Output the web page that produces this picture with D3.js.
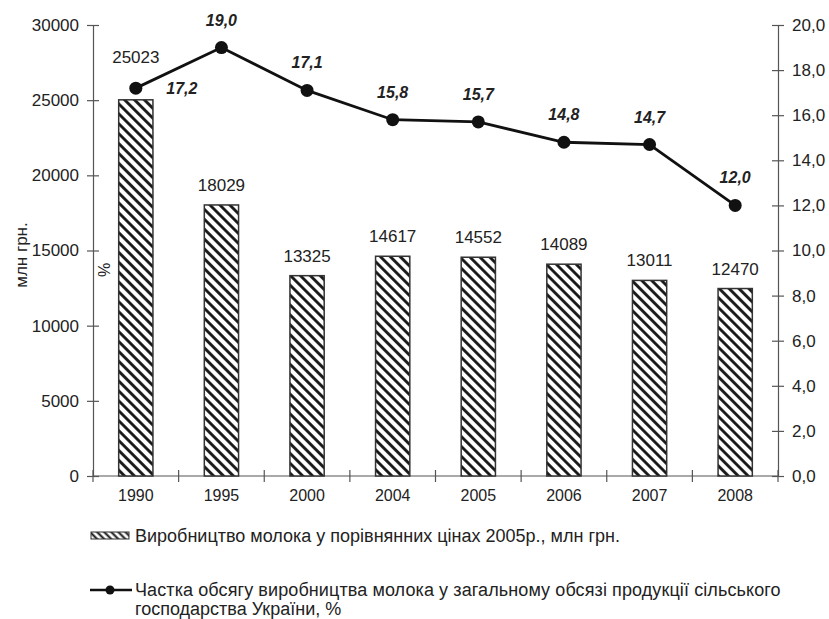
<!DOCTYPE html>
<html><head><meta charset="utf-8">
<script src="https://cdn.jsdelivr.net/npm/d3@7"></script>
<style>body{margin:0;background:#fff}svg{font-family:"Liberation Sans",Arial,sans-serif}</style>
</head><body>
<svg id="c" width="829" height="619"></svg>
<script>
const years = ["1990","1995","2000","2004","2005","2006","2007","2008"];
const production = [25023,18029,13325,14617,14552,14089,13011,12470];
const share = [17.2,19.0,17.1,15.8,15.7,14.8,14.7,12.0];
const leftTicks = [0,5000,10000,15000,20000,25000,30000];
const rightTicks = [0,2,4,6,8,10,12,14,16,18,20];
const legendBar = "Виробництво молока у порівнянних цінах 2005р., млн грн.";
const legendLine = ["Частка обсягу виробництва молока у загальному обсязі продукції сільського","господарства України, %"];

const svg = d3.select("#c");
const L = 93, R = 778, T = 25, B = 476;
const ink = "#222", axisCol = "#555";

const defs = svg.append("defs");
const pat = defs.append("pattern").attr("id","hatch").attr("patternUnits","userSpaceOnUse")
  .attr("width",7).attr("height",7).attr("patternTransform","rotate(-45)");
pat.append("rect").attr("width",7).attr("height",7).attr("fill","#fff");
pat.append("line").attr("x1",3.5).attr("x2",3.5).attr("y1",0).attr("y2",7).attr("stroke","#111").attr("stroke-width",2.8);
const pat2 = defs.append("pattern").attr("id","hatchS").attr("patternUnits","userSpaceOnUse")
  .attr("width",5).attr("height",5).attr("patternTransform","rotate(-45)");
pat2.append("rect").attr("width",5).attr("height",5).attr("fill","#fff");
pat2.append("line").attr("x1",2.5).attr("x2",2.5).attr("y1",0).attr("y2",5).attr("stroke","#111").attr("stroke-width",2);

const x = d3.scaleBand().domain(years).range([L,R]);
const yL = d3.scaleLinear().domain([0,30000]).range([B,T]);
const yR = d3.scaleLinear().domain([0,20]).range([B,T]);
const bw = x.bandwidth()*0.4;

// axes
const gl = svg.append("g").attr("transform",`translate(${L},0)`)
  .call(d3.axisLeft(yL).tickValues(leftTicks).tickSize(5).tickPadding(9).tickFormat(d=>d));
gl.selectAll(".tick line").attr("x2",6).attr("x1",-6);
const gr = svg.append("g").attr("transform",`translate(${R},0)`)
  .call(d3.axisRight(yR).tickValues(rightTicks).tickSize(5).tickPadding(9).tickFormat(d=>d3.format(".1f")(d).replace(".",",")));
gr.selectAll(".tick line").attr("x1",-6).attr("x2",6);
const gx = svg.append("g").attr("transform",`translate(0,${B})`)
  .call(d3.axisBottom(x).tickSize(0).tickPadding(14));
[gl,gr,gx].forEach(g=>{
  g.select(".domain").attr("stroke",axisCol).attr("stroke-width",1.2);
  g.selectAll(".tick line").attr("stroke",axisCol).attr("stroke-width",1.2);
  g.selectAll("text").attr("fill",ink).style("font-size","17px").style("font-family","'Liberation Sans',Arial,sans-serif");
});
gx.select(".domain").attr("d",`M${L},0H${R}`);
gx.selectAll("text").style("font-size","16px");
// category boundary ticks
svg.append("g").selectAll("line").data(d3.range(0,years.length+1)).join("line")
  .attr("x1",d=>L+d*x.step()).attr("x2",d=>L+d*x.step())
  .attr("y1",B-6).attr("y2",B+6).attr("stroke",axisCol).attr("stroke-width",1.2);

// bars
svg.append("g").selectAll("rect").data(production).join("rect")
  .attr("x",(d,i)=>x(years[i])+x.bandwidth()/2-bw/2).attr("width",bw)
  .attr("y",d=>yL(d)).attr("height",d=>B-yL(d))
  .attr("fill","url(#hatch)").attr("stroke","#333").attr("stroke-width",1.5);
svg.append("g").selectAll("text").data(production).join("text")
  .attr("x",(d,i)=>x(years[i])+x.bandwidth()/2)
  .attr("y",(d,i)=>yL(d)-(i===0?37:14))
  .attr("text-anchor","middle").attr("fill",ink).style("font-size","17px").text(d=>d);

// line
const cx = i=>x(years[i])+x.bandwidth()/2;
svg.append("path").datum(share)
  .attr("d",d3.line().x((d,i)=>cx(i)).y(d=>yR(d)))
  .attr("fill","none").attr("stroke","#111").attr("stroke-width",2.8);
svg.append("g").selectAll("circle").data(share).join("circle")
  .attr("cx",(d,i)=>cx(i)).attr("cy",d=>yR(d)).attr("r",6.5).attr("fill","#111");
svg.append("g").selectAll("text").data(share).join("text")
  .attr("x",(d,i)=>cx(i)+(i===0?46:0))
  .attr("y",(d,i)=>yR(d)+(i===0?6:-22))
  .attr("text-anchor","middle").attr("fill",ink)
  .style("font-size","16px").style("font-weight","bold").style("font-style","italic")
  .text(d=>d3.format(".1f")(d).replace(".",","));

// axis titles
svg.append("text").attr("transform",`translate(27,255) rotate(-90)`)
  .attr("text-anchor","middle").attr("fill",ink).style("font-size","17px").text("млн грн.");
svg.append("text").attr("transform",`translate(110,270) rotate(-90)`)
  .attr("text-anchor","middle").attr("fill",ink).style("font-size","16px").text("%");

// legend
const lg = svg.append("g");
lg.append("rect").attr("x",91).attr("y",532).attr("width",38).attr("height",7)
  .attr("fill","url(#hatchS)").attr("stroke","#333").attr("stroke-width",1);
lg.append("text").attr("x",135).attr("y",542).attr("fill",ink).style("font-size","18px").text(legendBar);
lg.append("line").attr("x1",90).attr("x2",132).attr("y1",590).attr("y2",590).attr("stroke","#111").attr("stroke-width",2.5);
lg.append("circle").attr("cx",110).attr("cy",590).attr("r",4.5).attr("fill","#111");
lg.selectAll("text.l2").data(legendLine).join("text").attr("class","l2")
  .attr("x",135).attr("y",(d,i)=>596+i*19).attr("fill",ink).style("font-size","18px")
  .style("letter-spacing",(d,i)=>i===0?"0.1px":"0px").text(d=>d);
</script>
</body></html>
